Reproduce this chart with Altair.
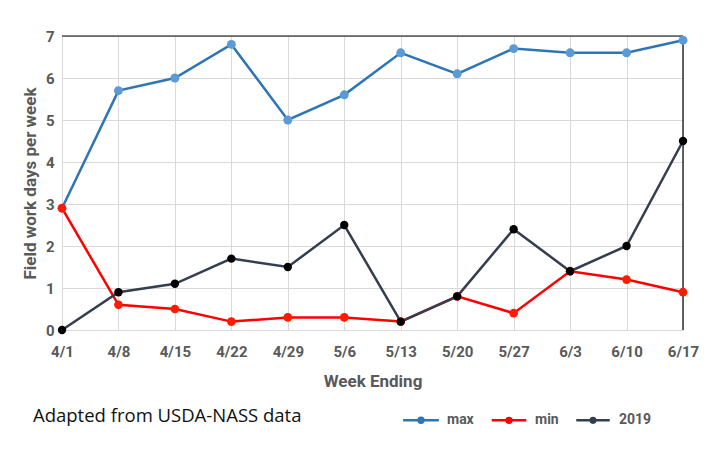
import altair as alt
import pandas as pd

weeks = ["4/1", "4/8", "4/15", "4/22", "4/29", "5/6", "5/13", "5/20", "5/27", "6/3", "6/10", "6/17"]
max_vals = [2.9, 5.7, 6.0, 6.8, 5.0, 5.6, 6.6, 6.1, 6.7, 6.6, 6.6, 6.9]
min_vals = [2.9, 0.6, 0.5, 0.2, 0.3, 0.3, 0.2, 0.8, 0.4, 1.4, 1.2, 0.9]
y2019_vals = [0.0, 0.9, 1.1, 1.7, 1.5, 2.5, 0.2, 0.8, 2.4, 1.4, 2.0, 4.5]
series_names = ["max", "min", "2019"]
line_colors = ["#2E75B6", "#FF0000", "#333F50"]
marker_fills = ["#5B9BD5", "#FF1A00", "#000000"]
marker_sizes = [80, 70, 35]

rows = []
for name, vals in zip(series_names, [max_vals, min_vals, y2019_vals]):
    for i, (w, v) in enumerate(zip(weeks, vals)):
        rows.append({"week": w, "value": v, "series": name, "order": series_names.index(name)})
df = pd.DataFrame(rows)

FONT = "Liberation Sans Narrow, Roboto, sans-serif"
GREY = "#595959"

x_enc = alt.X("week:N", sort=weeks, scale=alt.Scale(type="point", padding=0),
              axis=alt.Axis(title="Week Ending", labelAngle=0, ticks=False, domain=False,
                            grid=True, gridColor="#D9D9D9", labelPadding=14,
                            titlePadding=14))
y_enc = alt.Y("value:Q", scale=alt.Scale(domain=[0, 7], nice=False),
              axis=alt.Axis(title="Field work days per week", tickCount=7, ticks=False,
                            domain=False, grid=True, gridColor="#D9D9D9", labelPadding=8,
                            titlePadding=6))

symbol_path = "M-4,0L4,0M0.55,0A0.55,0.55,0,1,1,-0.55,0A0.55,0.55,0,1,1,0.55,0Z"

base = alt.Chart(df)
lines = base.mark_line(strokeWidth=2.5).encode(
    x=x_enc, y=y_enc,
    color=alt.Color("series:N", scale=alt.Scale(domain=series_names, range=line_colors),
                    legend=alt.Legend(title=None, orient="none", direction="horizontal",
                                      legendX=352, legendY=377, symbolType=symbol_path,
                                      symbolStrokeWidth=2.5,
                                      labelFont=FONT, labelFontSize=14, labelColor=GREY,
                                      labelFontWeight="bold", columnPadding=12,
                                      labelOffset=19)),
    detail="series:N",
)
points = base.mark_point(filled=True, opacity=1, strokeWidth=1).encode(
    x=alt.X("week:N", sort=weeks), y="value:Q",
    fill=alt.Fill("series:N", scale=alt.Scale(domain=series_names, range=marker_fills), legend=None),
    size=alt.Size("series:N", scale=alt.Scale(domain=series_names, range=marker_sizes), legend=None),
    order=alt.Order("order:Q"),
)
right_rule = alt.Chart(pd.DataFrame({"week": [weeks[-1]]})).mark_rule(color="black", strokeWidth=1.2).encode(
    x=alt.X("week:N", sort=weeks)
)
top_rule = alt.Chart(pd.DataFrame({"value": [7]})).mark_rule(color="black", strokeWidth=1.2).encode(
    y="value:Q"
)
note = alt.Chart(pd.DataFrame({"t": ["Adapted from USDA-NASS data"]})).mark_text(
    align="left", baseline="middle", font="Open Sans, sans-serif", fontSize=18.5, color="#111111"
).encode(text="t:N", x=alt.value(-29), y=alt.value(380))

chart = alt.layer(lines, right_rule, top_rule, points, note).properties(
    width=621, height=294,
    padding={"left": 54, "top": 28, "right": 20, "bottom": 118},
    autosize=alt.AutoSizeParams(type="none"),
).configure_view(stroke=None).configure_axis(
    labelFont=FONT, labelFontSize=15, labelColor=GREY, labelFontWeight="bold",
    titleFont=FONT, titleFontSize=17, titleColor=GREY, titleFontWeight="bold",
)

chart.save("out.html", embed_options={"renderer": "svg", "actions": False})
